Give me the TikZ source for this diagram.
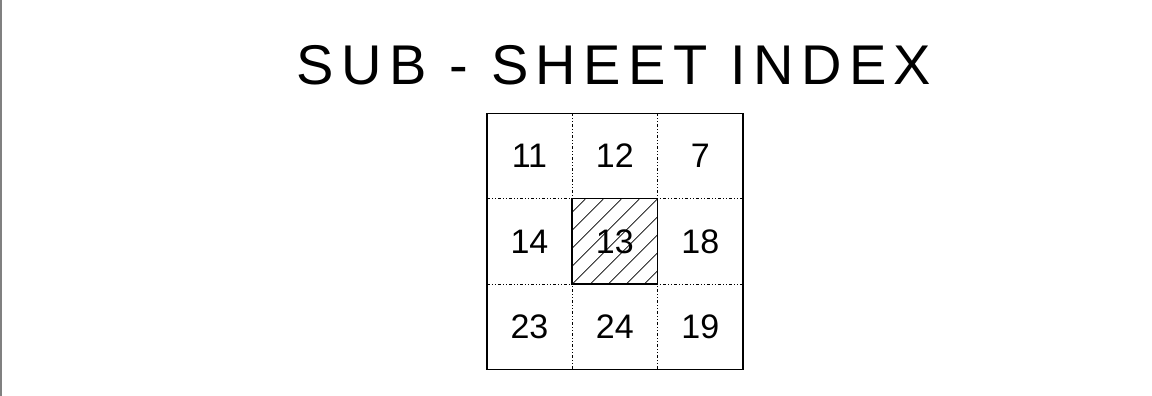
\documentclass[tikz,border=0pt]{standalone}
\usepackage{fontspec}
\setmainfont{Liberation Sans}
\usetikzlibrary{positioning}

\begin{document}
\begin{tikzpicture}[
  x=1pt, y=-1pt,
  heading/.style={inner sep=0pt, font=\fontsize{56}{60}\selectfont\addfontfeature{LetterSpace=13.2}},
  sheet/.style={minimum width=85pt, minimum height=85pt, inner sep=0pt, font=\fontsize{34}{36}\selectfont},
  splitline/.style={line width=1pt, dash pattern=on 3pt off 2pt on 1pt off 2pt on 1pt off 2pt},
  frame/.style={line width=1.5pt},
  hatch/.style={line width=0.7pt}
]
\useasboundingbox (0,0) rectangle (1152,396);
\draw[gray, line width=1.5pt] (0.75,0) -- (0.75,396);

\node[heading] (title) at (614,65) {SUB - SHEET INDEX};

\node[sheet] (s11) at (529.5,156) {11};
\node[sheet, right=0pt of s11] (s12) {12};
\node[sheet, right=0pt of s12] (s7) {7};
\node[sheet, below=0pt of s11] (s14) {14};
\node[sheet, right=0pt of s14] (s13) {13};
\node[sheet, right=0pt of s13] (s18) {18};
\node[sheet, below=0pt of s14] (s23) {23};
\node[sheet, right=0pt of s23] (s24) {24};
\node[sheet, right=0pt of s24] (s19) {19};

% sheet borders
\draw[splitline] (s14.north west) -- (s18.north east);
\draw[splitline] (s23.north west) -- (s19.north east);
\draw[splitline] (s12.north west) -- (s24.south west);
\draw[splitline] (s7.north west) -- (s19.south west);
\draw[frame] (s11.north west) rectangle (s19.south east);

% current sheet
\begin{scope}
  \clip (s13.south west) rectangle (s13.north east);
  \foreach \d in {-90,-72,...,90}
    \draw[hatch] ([xshift=\d pt]s13.south west) -- ++(85,-85);
\end{scope}
\draw[frame] (s13.north west) rectangle (s13.south east);

\end{tikzpicture}
\end{document}
